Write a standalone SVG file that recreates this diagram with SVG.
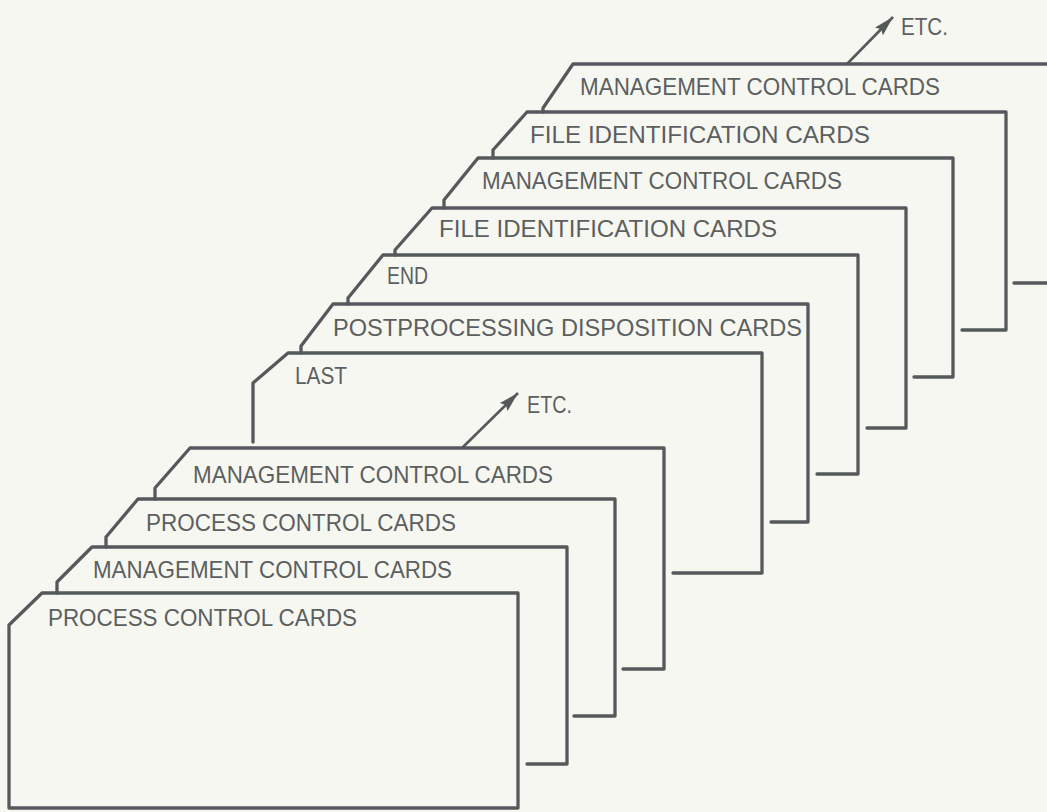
<svg xmlns="http://www.w3.org/2000/svg" width="1047" height="812" viewBox="0 0 1047 812">
<style>
.card{fill:none;stroke:#56595b;stroke-width:3.3;stroke-linejoin:round;stroke-linecap:round}
.lbl{font-family:"Liberation Sans","DejaVu Sans",sans-serif;font-size:24.5px;fill:#5c5f60}
.arr{fill:none;stroke:#56595b;stroke-width:2.6}
</style>
<defs>
<marker id="ah" markerUnits="userSpaceOnUse" markerWidth="22" markerHeight="14" refX="20" refY="7" orient="auto">
<path d="M0,1.5 L20,7 L0,12.5 L3,7 Z" fill="#56595b"/>
</marker>
</defs>
<rect x="0" y="0" width="1047" height="812" fill="#f7f7f1"/>

<g id="card11">
<path class="card" d="M1014,283 L1060,283 L1060,64 L573,64 L543,108 L543,112"/>
<text class="lbl" x="580" y="95" textLength="360" lengthAdjust="spacingAndGlyphs">MANAGEMENT CONTROL CARDS</text>
</g>
<g id="card10">
<path class="card" d="M962,330 L1006,330 L1006,112 L527,112 L493,150 L493,158"/>
<text class="lbl" x="530" y="143" textLength="340" lengthAdjust="spacingAndGlyphs">FILE IDENTIFICATION CARDS</text>
</g>
<g id="card9">
<path class="card" d="M914,377 L953,377 L953,158 L478,158 L444,200 L444,208"/>
<text class="lbl" x="482" y="189" textLength="360" lengthAdjust="spacingAndGlyphs">MANAGEMENT CONTROL CARDS</text>
</g>
<g id="card8">
<path class="card" d="M867,428 L906,428 L906,208 L432,208 L395,250 L395,255"/>
<text class="lbl" x="439" y="237" textLength="338" lengthAdjust="spacingAndGlyphs">FILE IDENTIFICATION CARDS</text>
</g>
<g id="card7">
<path class="card" d="M817,474 L858,474 L858,255 L383,255 L348,298 L348,304"/>
<text class="lbl" x="387" y="284" textLength="41" lengthAdjust="spacingAndGlyphs">END</text>
</g>
<g id="card6">
<path class="card" d="M771,522 L808,522 L808,304 L333,304 L301,346 L301,353"/>
<text class="lbl" x="333" y="336" textLength="469" lengthAdjust="spacingAndGlyphs">POSTPROCESSING DISPOSITION CARDS</text>
</g>
<g id="card5">
<path class="card" d="M673,573 L762,573 L762,353 L288,353 L253,383 L253,442"/>
<text class="lbl" x="295" y="384" textLength="52" lengthAdjust="spacingAndGlyphs">LAST</text>
</g>
<g id="card4">
<path class="card" d="M623,669 L664,669 L664,448 L190,448 L155,488 L155,499"/>
<text class="lbl" x="193" y="483" textLength="360" lengthAdjust="spacingAndGlyphs">MANAGEMENT CONTROL CARDS</text>
</g>
<g id="card3">
<path class="card" d="M574,716 L615,716 L615,499 L138,499 L106,537 L106,547"/>
<text class="lbl" x="146" y="531" textLength="310" lengthAdjust="spacingAndGlyphs">PROCESS CONTROL CARDS</text>
</g>
<g id="card2">
<path class="card" d="M527,764 L567,764 L567,547 L92,547 L57,582 L57,593"/>
<text class="lbl" x="93" y="578" textLength="359" lengthAdjust="spacingAndGlyphs">MANAGEMENT CONTROL CARDS</text>
</g>
<g id="card1">
<path class="card" d="M9,625 L42,593 L518,593 L518,808 L9,808 Z"/>
<text class="lbl" x="48" y="626" textLength="309" lengthAdjust="spacingAndGlyphs">PROCESS CONTROL CARDS</text>
</g>

<g id="connectors">
<line class="arr" x1="462" y1="448" x2="518" y2="393" marker-end="url(#ah)"/>
<line class="arr" x1="847" y1="64" x2="893" y2="17" marker-end="url(#ah)"/>
</g>
<g id="etc-labels">
<text class="lbl" x="527" y="413" textLength="45" lengthAdjust="spacingAndGlyphs">ETC.</text>
<text class="lbl" x="901" y="35" textLength="47" lengthAdjust="spacingAndGlyphs">ETC.</text>
</g>
</svg>
